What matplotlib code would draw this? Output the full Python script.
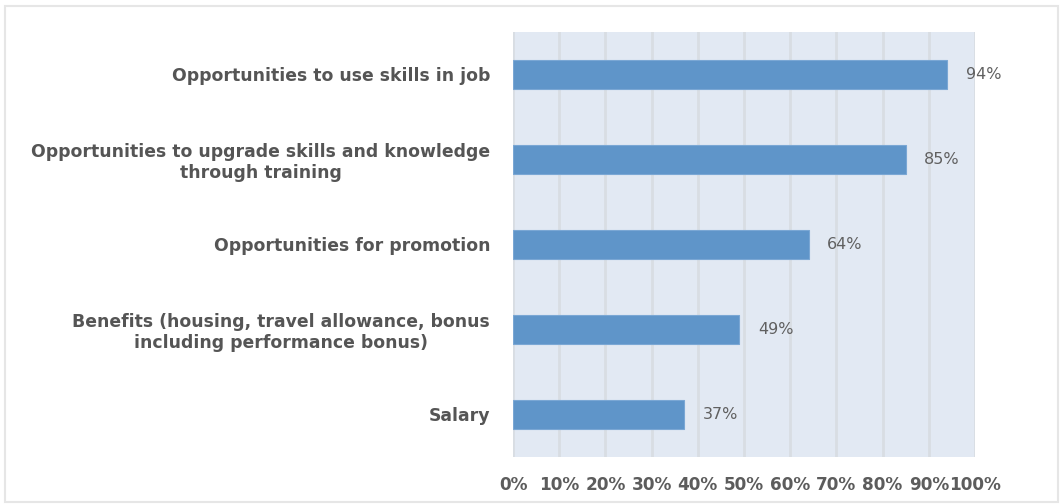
import matplotlib.pyplot as plt
from matplotlib.patches import Rectangle

plt.rcParams['font.family'] = ['DejaVu Sans']

categories = [
    "Opportunities to use skills in job",
    "Opportunities to upgrade skills and knowledge\nthrough training",
    "Opportunities for promotion",
    "Benefits (housing, travel allowance, bonus\nincluding performance bonus)",
    "Salary",
]
values = [94, 85, 64, 49, 37]
xticks = list(range(0, 101, 10))

fig = plt.figure(figsize=(10.63, 5.04), dpi=100)
ax = fig.add_axes([0.4826, 0.0933, 0.4346, 0.8433])

# outer light frame round the chart
fig.patches.append(Rectangle((0.005, 0.004), 0.99, 0.985, transform=fig.transFigure,
                             fill=False, edgecolor="#e6e6e6", linewidth=1.5))

ax.set_facecolor("#e2e9f3")
pos = list(range(len(categories)))
ax.barh(pos, values, height=0.35, color="#5f95c9", edgecolor="#7aa7d4",
        linewidth=0.8, zorder=3)

for y, v in zip(pos, values):
    ax.text(v + 4, y, f"{v}%", va="center", ha="left", fontsize=11.5,
            color="#606060")

ax.set_xlim(0, 100)
ax.set_ylim(len(categories) - 0.5, -0.5)
ax.set_xticks(xticks)
ax.set_xticklabels([f"{t}%" for t in xticks], fontweight="bold")
ax.set_yticks(pos)
ax.set_yticklabels(categories, multialignment="center", fontweight="bold")
ax.xaxis.grid(True, color="#d8dde3", linewidth=2, zorder=0)
ax.set_axisbelow(True)

ax.tick_params(axis="x", length=0, pad=14, labelsize=12.2, labelcolor="#5c5c5c")
ax.tick_params(axis="y", length=0, pad=16.5, labelsize=12.4, labelcolor="#555555")
for s in ax.spines.values():
    s.set_visible(False)

fig.savefig("out.png", dpi=100)
